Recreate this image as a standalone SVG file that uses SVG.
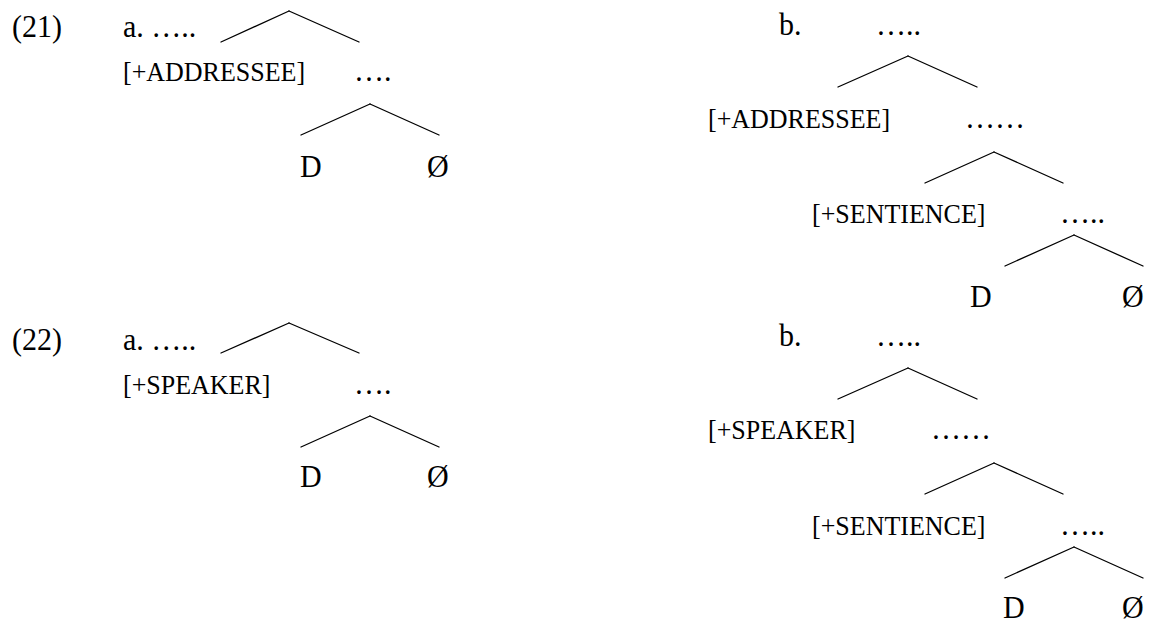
<svg xmlns="http://www.w3.org/2000/svg" width="1155" height="635" viewBox="0 0 1155 635">
<style>
text{font-family:"Liberation Serif","Times New Roman",serif;fill:#000}
.t{font-size:30px}
.f{font-size:26px}
.e line{stroke:#000;stroke-width:1.3;stroke-linecap:round}
</style>
<rect width="1155" height="635" fill="#fff"/>
<g id="labels">
<text class="t" transform="translate(12,37) scale(1,1.08)">(21)</text>
<text class="t" transform="translate(12,350) scale(1,1.08)">(22)</text>
</g>
<g id="ex21a">
<g id="n21a-root"><text class="t" transform="translate(123,37) scale(1,1.08)">a. …..</text></g>
<g id="n21a-feat"><text class="f" transform="translate(123,81) scale(1,1.08)">[+ADDRESSEE]</text></g>
<g id="n21a-mid"><text class="t" transform="translate(354,81) scale(1,1.08)">….</text></g>
<g id="n21a-D"><text class="t" transform="translate(300,177) scale(1,1.08)">D</text></g>
<g id="n21a-0"><text class="t" transform="translate(427,177) scale(1,1.08)">Ø</text></g>
</g>
<g id="ex21b">
<g id="n21b-label"><text class="t" transform="translate(779,35) scale(1,1.08)">b.</text></g>
<g id="n21b-root"><text class="t" transform="translate(876,35) scale(1,1.08)">…..</text></g>
<g id="n21b-feat"><text class="f" transform="translate(708,128) scale(1,1.08)">[+ADDRESSEE]</text></g>
<g id="n21b-mid"><text class="t" transform="translate(965,128) scale(1,1.08)">……</text></g>
<g id="n21b-sent"><text class="f" transform="translate(812,223) scale(1,1.08)">[+SENTIENCE]</text></g>
<g id="n21b-low"><text class="t" transform="translate(1060,223) scale(1,1.08)">…..</text></g>
<g id="n21b-D"><text class="t" transform="translate(970,307) scale(1,1.08)">D</text></g>
<g id="n21b-0"><text class="t" transform="translate(1122,307) scale(1,1.08)">Ø</text></g>
</g>
<g id="ex22a">
<g id="n22a-root"><text class="t" transform="translate(123,350) scale(1,1.08)">a. …..</text></g>
<g id="n22a-feat"><text class="f" transform="translate(123,394) scale(1,1.08)">[+SPEAKER]</text></g>
<g id="n22a-mid"><text class="t" transform="translate(354,394) scale(1,1.08)">….</text></g>
<g id="n22a-D"><text class="t" transform="translate(300,487) scale(1,1.08)">D</text></g>
<g id="n22a-0"><text class="t" transform="translate(427,487) scale(1,1.08)">Ø</text></g>
</g>
<g id="ex22b">
<g id="n22b-label"><text class="t" transform="translate(779,346) scale(1,1.08)">b.</text></g>
<g id="n22b-root"><text class="t" transform="translate(876,346) scale(1,1.08)">…..</text></g>
<g id="n22b-feat"><text class="f" transform="translate(708,439) scale(1,1.08)">[+SPEAKER]</text></g>
<g id="n22b-mid"><text class="t" transform="translate(931,439) scale(1,1.08)">……</text></g>
<g id="n22b-sent"><text class="f" transform="translate(812,535) scale(1,1.08)">[+SENTIENCE]</text></g>
<g id="n22b-low"><text class="t" transform="translate(1060,535) scale(1,1.08)">…..</text></g>
<g id="n22b-D"><text class="t" transform="translate(1003,618) scale(1,1.08)">D</text></g>
<g id="n22b-0"><text class="t" transform="translate(1122,618) scale(1,1.08)">Ø</text></g>
</g>
<g id="connectors" class="e">
<line x1="221" y1="42" x2="289" y2="11"/><line x1="289" y1="11" x2="359" y2="42"/>
<line x1="301" y1="135" x2="370" y2="104"/><line x1="370" y1="104" x2="439" y2="135"/>
<line x1="838" y1="87" x2="908" y2="56"/><line x1="908" y1="56" x2="977" y2="87"/>
<line x1="925" y1="183" x2="994" y2="152"/><line x1="994" y1="152" x2="1063" y2="183"/>
<line x1="1005" y1="266" x2="1074" y2="235"/><line x1="1074" y1="235" x2="1143" y2="266"/>
<line x1="221" y1="353" x2="289" y2="323"/><line x1="289" y1="323" x2="359" y2="353"/>
<line x1="301" y1="447" x2="370" y2="416"/><line x1="370" y1="416" x2="439" y2="447"/>
<line x1="838" y1="399" x2="908" y2="368"/><line x1="908" y1="368" x2="977" y2="399"/>
<line x1="925" y1="494" x2="994" y2="463"/><line x1="994" y1="463" x2="1063" y2="494"/>
<line x1="1005" y1="578" x2="1074" y2="547"/><line x1="1074" y1="547" x2="1143" y2="578"/>
</g>
</svg>
